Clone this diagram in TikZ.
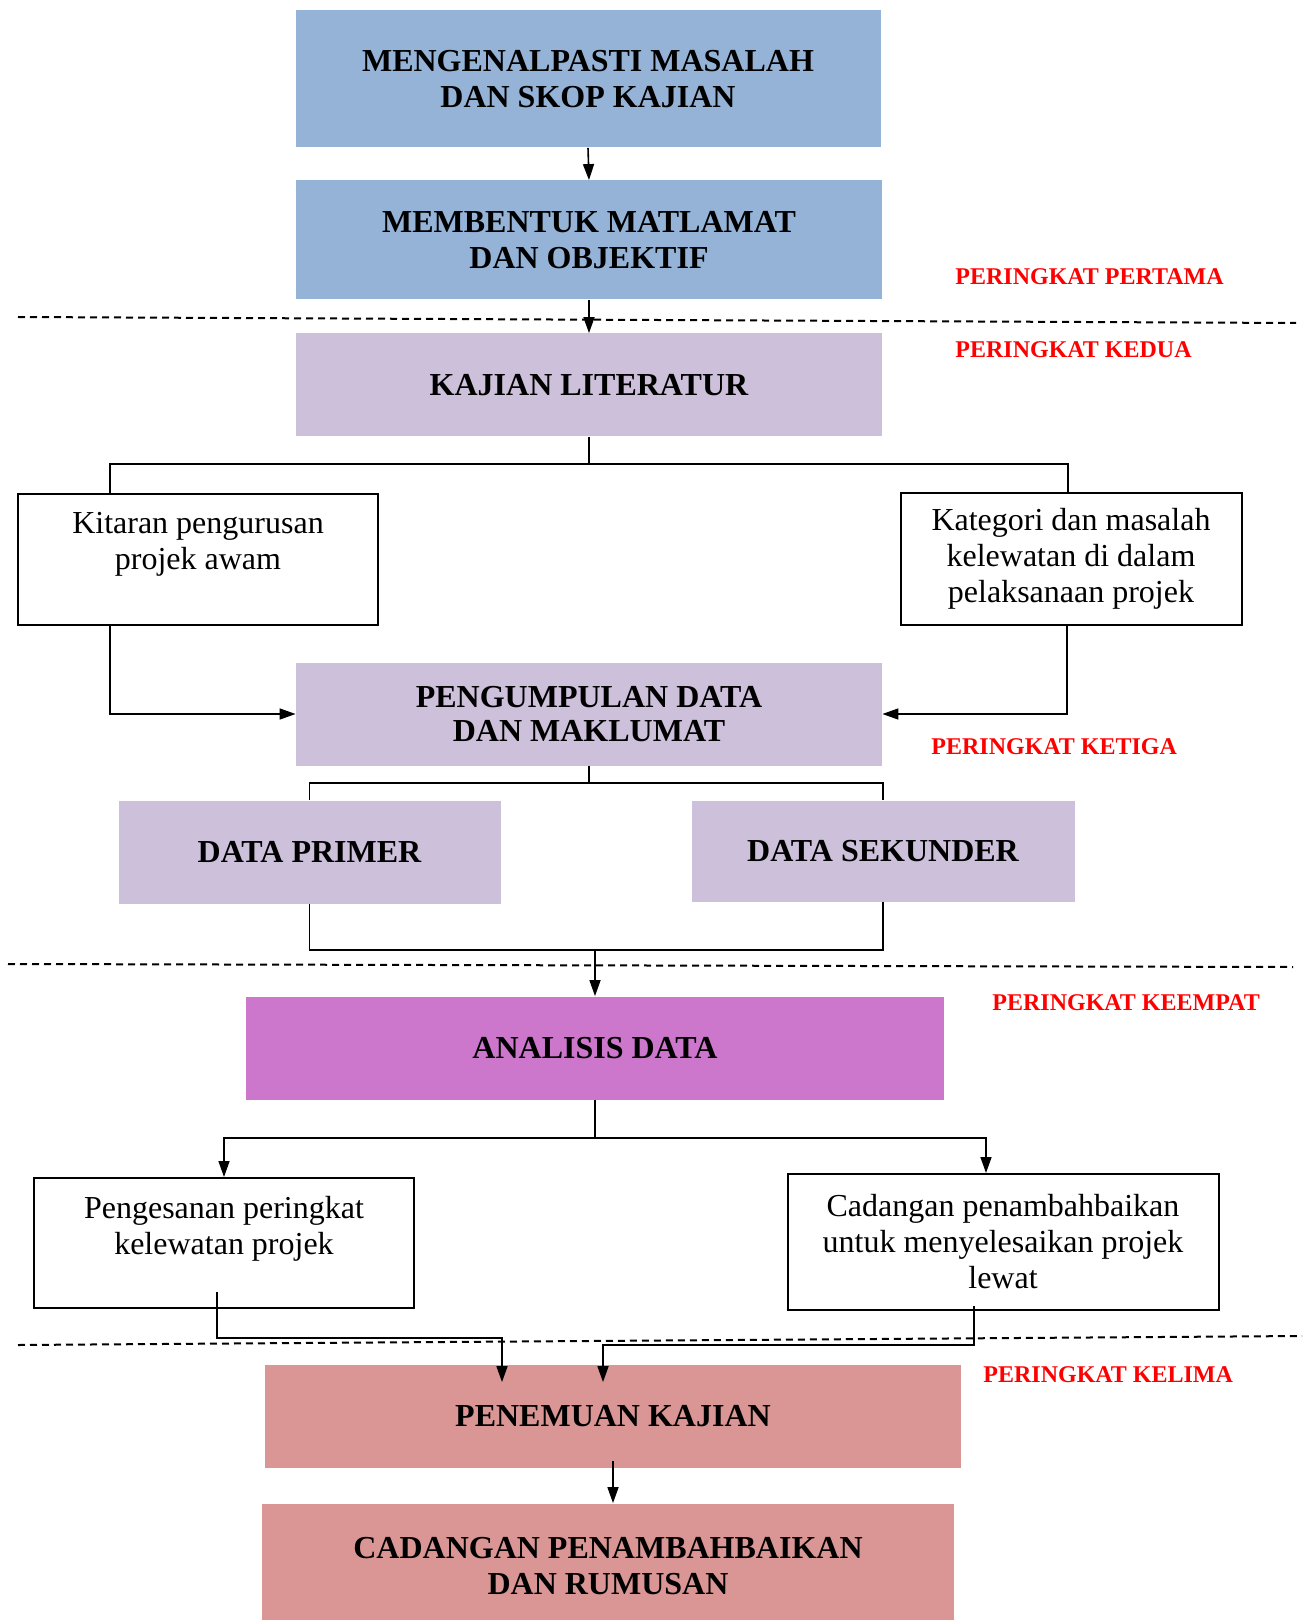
\documentclass[tikz,border=0pt]{standalone}
\usepackage{fontspec}
\setmainfont{Liberation Serif}
\usetikzlibrary{arrows.meta, calc}

\definecolor{biru}{RGB}{149,179,215}
\definecolor{ungu}{RGB}{204,192,218}
\definecolor{ungutua}{RGB}{204,118,204}
\definecolor{merah}{RGB}{217,150,148}

\begin{document}
\begin{tikzpicture}[x = 0.5pt, y = -0.5pt,
    box/.style = {inner sep = 0pt, align = center, font = \fontsize{16}{18}\selectfont\bfseries},
    kotak/.style = {draw, line width = 1pt, inner sep = 0pt, align = center, font = \fontsize{16}{18}\selectfont},
    peringkat/.style = {anchor = west, inner sep = 0pt, text = red, font = \fontsize{12}{14}\selectfont\bfseries},
    garis/.style = {line width = 0.8pt},
    panah/.style = {line width = 0.8pt, -{Triangle[length = 8pt, width = 5.5pt]}},
    sempadan/.style = {line width = 1pt, dash pattern = on 3.5pt off 2.5pt}]
    \useasboundingbox (0,0) rectangle (1304,1620);
    \clip (0,0) rectangle (1304,1620);

    \draw[sempadan] (18,317) -- (1296,323);
    \draw[sempadan] (8,964) -- (1293,967);
    \draw[sempadan] (18,1345) -- (1302,1336);

    \node[box, fill = biru, minimum width = 292.5pt, minimum height = 68.5pt] (masalah) at (588,79) {MENGENALPASTI MASALAH\\ DAN SKOP KAJIAN};
    \node[box, fill = biru, minimum width = 293pt, minimum height = 59.5pt] (objektif) at (589,240) {MEMBENTUK MATLAMAT\\ DAN OBJEKTIF};
    \node[box, fill = ungu, minimum width = 293pt, minimum height = 51.5pt] (literatur) at (589,385) {KAJIAN LITERATUR};
    \node[kotak, minimum width = 180pt, minimum height = 65.5pt] (kitaran) at (198,559) {Kitaran pengurusan\\ projek awam\\ \mbox{}};
    \node[kotak, minimum width = 170.5pt, minimum height = 66pt] (kategori) at (1071,559) {Kategori dan masalah\\ kelewatan di dalam\\ pelaksanaan projek};
    \node[box, fill = ungu, minimum width = 293pt, minimum height = 51.5pt] (pengumpulan) at (589,714) {PENGUMPULAN DATA\\[-1pt] DAN MAKLUMAT};
    \node[box, fill = ungu, minimum width = 191pt, minimum height = 51.5pt] (primer) at (309.5,852) {DATA PRIMER};
    \node[box, fill = ungu, minimum width = 191.5pt, minimum height = 50.5pt] (sekunder) at (883,851) {DATA SEKUNDER};
    \node[box, fill = ungutua, minimum width = 349pt, minimum height = 51.5pt] (analisis) at (595,1048) {ANALISIS DATA};
    \node[kotak, minimum width = 190pt, minimum height = 65pt] (pengesanan) at (224,1243) {Pengesanan peringkat\\ kelewatan projek\\ \mbox{}};
    \node[kotak, minimum width = 215.5pt, minimum height = 68pt] (cadangan) at (1003,1242) {Cadangan penambahbaikan\\ untuk menyelesaikan projek\\ lewat};
    \node[box, fill = merah, minimum width = 348pt, minimum height = 51.5pt] (penemuan) at (613,1416) {PENEMUAN KAJIAN};
    \node[box, fill = merah, minimum width = 346pt, minimum height = 62.5pt] (rumusan) at (608,1566) {CADANGAN PENAMBAHBAIKAN\\ DAN RUMUSAN};

    \node[peringkat] (pertama) at (955,277) {PERINGKAT PERTAMA};
    \node[peringkat] (kedua) at (955,350) {PERINGKAT KEDUA};
    \node[peringkat] (ketiga) at (931,747) {PERINGKAT KETIGA};
    \node[peringkat] (keempat) at (992,1003) {PERINGKAT KEEMPAT};
    \node[peringkat] (kelima) at (983,1375) {PERINGKAT KELIMA};

    \coordinate (bus1) at (589,464);
    \coordinate (bus2) at (589,783);
    \coordinate (bus3) at (595,950);
    \coordinate (bus4) at (595,1138);

    \draw[panah] (masalah.south) -- (objektif.north);
    \draw[panah] (objektif.south) -- (literatur.north);
    \draw[garis] (literatur.south) -- (bus1);
    \draw[garis] (bus1) -| ($(kitaran.north)+(-88,0)$);
    \draw[garis] (bus1) -| ($(kategori.north)+(-3,0)$);
    \draw[panah] ($(kitaran.south)+(-88,0)$) |- (pengumpulan.west);
    \draw[panah] ($(kategori.south)+(-4,0)$) |- (pengumpulan.east);
    \draw[garis] (pengumpulan.south) -- (bus2);
    \draw[garis] (bus2) -| (primer.north);
    \draw[garis] (bus2) -| (sekunder.north);
    \draw[garis] (primer.south) |- (bus3);
    \draw[garis] (sekunder.south) |- (bus3);
    \draw[panah] (bus3) -- (analisis.north);
    \draw[garis] (analisis.south) -- (bus4);
    \draw[panah] (bus4) -| (pengesanan.north);
    \draw[panah] (bus4) -| ($(cadangan.north)+(-17,0)$);
    \draw[panah] ($(pengesanan.south)+(-7,-17)$) -- ++(0,46) -| ($(penemuan.north)+(-111,18)$);
    \draw[panah] ($(cadangan.south)+(-29,-5)$) -- ++(0,39) -| ($(penemuan.north)+(-10,18)$);
    \draw[panah] ($(penemuan.south)+(0,-7)$) -- (penemuan.south |- rumusan.north);
\end{tikzpicture}
\end{document}
